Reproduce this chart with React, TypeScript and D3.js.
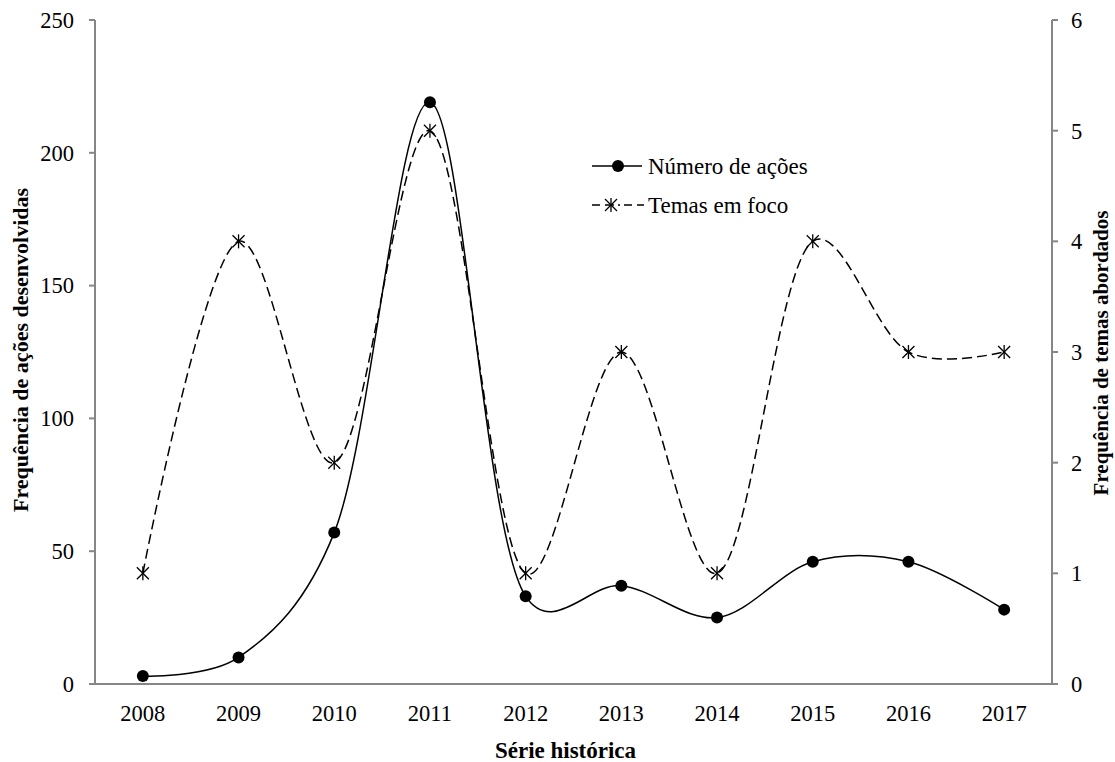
import React from "react";
import * as d3 from "d3";

const years = ["2008", "2009", "2010", "2011", "2012", "2013", "2014", "2015", "2016", "2017"];
const acoes = [3, 10, 57, 219, 33, 37, 25, 46, 46, 28];
const temas = [1, 4, 2, 5, 1, 3, 1, 4, 3, 3];
const leftTicks = [0, 50, 100, 150, 200, 250];
const rightTicks = [0, 1, 2, 3, 4, 5, 6];

const W = 1115, H = 762;
const M = { left: 95, right: 1052, top: 20, bottom: 684 };
const FONT = "'Liberation Serif', 'Times New Roman', serif";
const AXIS = "#868686";

export default function App() {
  const x = d3.scaleBand<string>().domain(years).range([M.left, M.right]);
  const xc = (y: string) => (x(y) as number) + x.bandwidth() / 2;
  const yL = d3.scaleLinear().domain([0, 250]).range([M.bottom, M.top]);
  const yR = d3.scaleLinear().domain([0, 6]).range([M.bottom, M.top]);
  const curve = d3.curveCatmullRom.alpha(0.25);
  const lineA = d3.line<number>().x((_, i) => xc(years[i])).y((d) => yL(d)).curve(curve);
  const lineT = d3.line<number>().x((_, i) => xc(years[i])).y((d) => yR(d)).curve(curve);

  const star = (cx: number, cy: number, k: string | number) => {
    const s = 6;
    return (
      <g key={k} stroke="#000" strokeWidth={1.3}>
        <line x1={cx - s} y1={cy - s} x2={cx + s} y2={cy + s} />
        <line x1={cx - s} y1={cy + s} x2={cx + s} y2={cy - s} />
        <line x1={cx} y1={cy - s - 1} x2={cx} y2={cy + s + 1} />
      </g>
    );
  };

  const TS = 22.5;
  return (
    <svg width={W} height={H} style={{ position: "absolute", left: 0, top: 0, background: "#fff" }}>
      {/* axes */}
      <line x1={M.left} y1={M.bottom} x2={M.right} y2={M.bottom} stroke={AXIS} strokeWidth={2} />
      <line x1={M.left} y1={M.top} x2={M.left} y2={M.bottom} stroke={AXIS} strokeWidth={2} />
      <line x1={M.right} y1={M.top} x2={M.right} y2={M.bottom} stroke={AXIS} strokeWidth={2} />
      {leftTicks.map((t) => (
        <g key={"l" + t}>
          <line x1={M.left - 6} x2={M.left} y1={yL(t)} y2={yL(t)} stroke={AXIS} strokeWidth={2} />
          <text x={M.left - 21} y={yL(t)} dy="0.35em" textAnchor="end" fontFamily={FONT} fontSize={TS}>{t}</text>
        </g>
      ))}
      {rightTicks.map((t) => (
        <g key={"r" + t}>
          <line x1={M.right} x2={M.right + 6} y1={yR(t)} y2={yR(t)} stroke={AXIS} strokeWidth={2} />
          <text x={M.right + 19} y={yR(t)} dy="0.35em" textAnchor="start" fontFamily={FONT} fontSize={TS}>{t}</text>
        </g>
      ))}
      {years.map((y) => (
        <text key={y} x={xc(y)} y={713} dy="0.35em" textAnchor="middle" fontFamily={FONT} fontSize={TS}>{y}</text>
      ))}
      {/* axis titles */}
      <text x={(M.left + M.right) / 2 - 8} y={758} textAnchor="middle" fontFamily={FONT} fontSize={23} fontWeight="bold">Série histórica</text>
      <text transform={`translate(28, 350) rotate(-90)`} textAnchor="middle" fontFamily={FONT} fontSize={22} fontWeight="bold">Frequência  de ações desenvolvidas</text>
      <text transform={`translate(1108, 353) rotate(-90)`} textAnchor="middle" fontFamily={FONT} fontSize={21} fontWeight="bold">Frequência  de temas abordados</text>

      {/* series */}
      <path d={lineT(temas) || ""} fill="none" stroke="#000" strokeWidth={1.5} strokeDasharray="10,5" />
      {temas.map((d, i) => star(xc(years[i]), yR(d), "s" + i))}
      <path d={lineA(acoes) || ""} fill="none" stroke="#000" strokeWidth={1.5} />
      {acoes.map((d, i) => (
        <circle key={"c" + i} cx={xc(years[i])} cy={yL(d)} r={6} fill="#000" />
      ))}

      {/* legend */}
      <line x1={592} x2={642} y1={166} y2={166} stroke="#000" strokeWidth={1.5} />
      <circle cx={618} cy={166} r={6} fill="#000" />
      <text x={648} y={166} dy="0.35em" fontFamily={FONT} fontSize={23}>Número de ações</text>
      <line x1={592} x2={644} y1={205} y2={205} stroke="#000" strokeWidth={1.5} strokeDasharray="8,5,9,4,2,4" />
      {star(611, 205, "legstar")}
      <text x={648} y={205} dy="0.35em" fontFamily={FONT} fontSize={23}>Temas em foco</text>
    </svg>
  );
}
